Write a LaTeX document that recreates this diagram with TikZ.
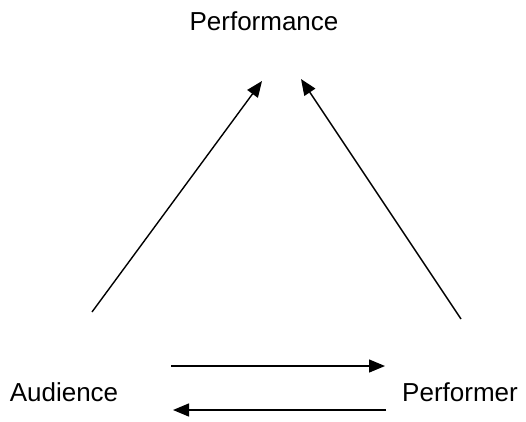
\documentclass[tikz,border=0pt]{standalone}
\usepackage{fontspec}
\setmainfont{Liberation Sans}
\usetikzlibrary{arrows.meta}

\begin{document}
\begin{tikzpicture}[x=1pt, y=-1pt,
      lbl/.style={inner sep=0pt, font=\fontsize{26}{31}\selectfont, anchor=base},
      arr/.style={-{Triangle[length=16pt,width=13pt]}, line width=1.4pt}
  ]
    \useasboundingbox (0,0) rectangle (526,421);
    \node[lbl] (perf) at (264,30)  {Performance};
    \node[lbl] (aud)  at (64,401)  {Audience};
    \node[lbl] (pfm)  at (460,401) {Performer};
    % free ends of the connectors
    \coordinate (audtop) at (92,312);
    \coordinate (pfmtop) at (461,319);
    \coordinate (perfl)  at (262,81);
    \coordinate (perfr)  at (301,79);
    \coordinate (sendl)  at (171,366);
    \coordinate (sendr)  at (385,366);
    \coordinate (backr)  at (386,410);
    \coordinate (backl)  at (173,410);
    \draw[arr] (audtop)--(perfl);
    \draw[arr] (pfmtop)--(perfr);
    \draw[arr] (sendl)--(sendr);
    \draw[arr] (backr)--(backl);
  \end{tikzpicture}
\end{document}
